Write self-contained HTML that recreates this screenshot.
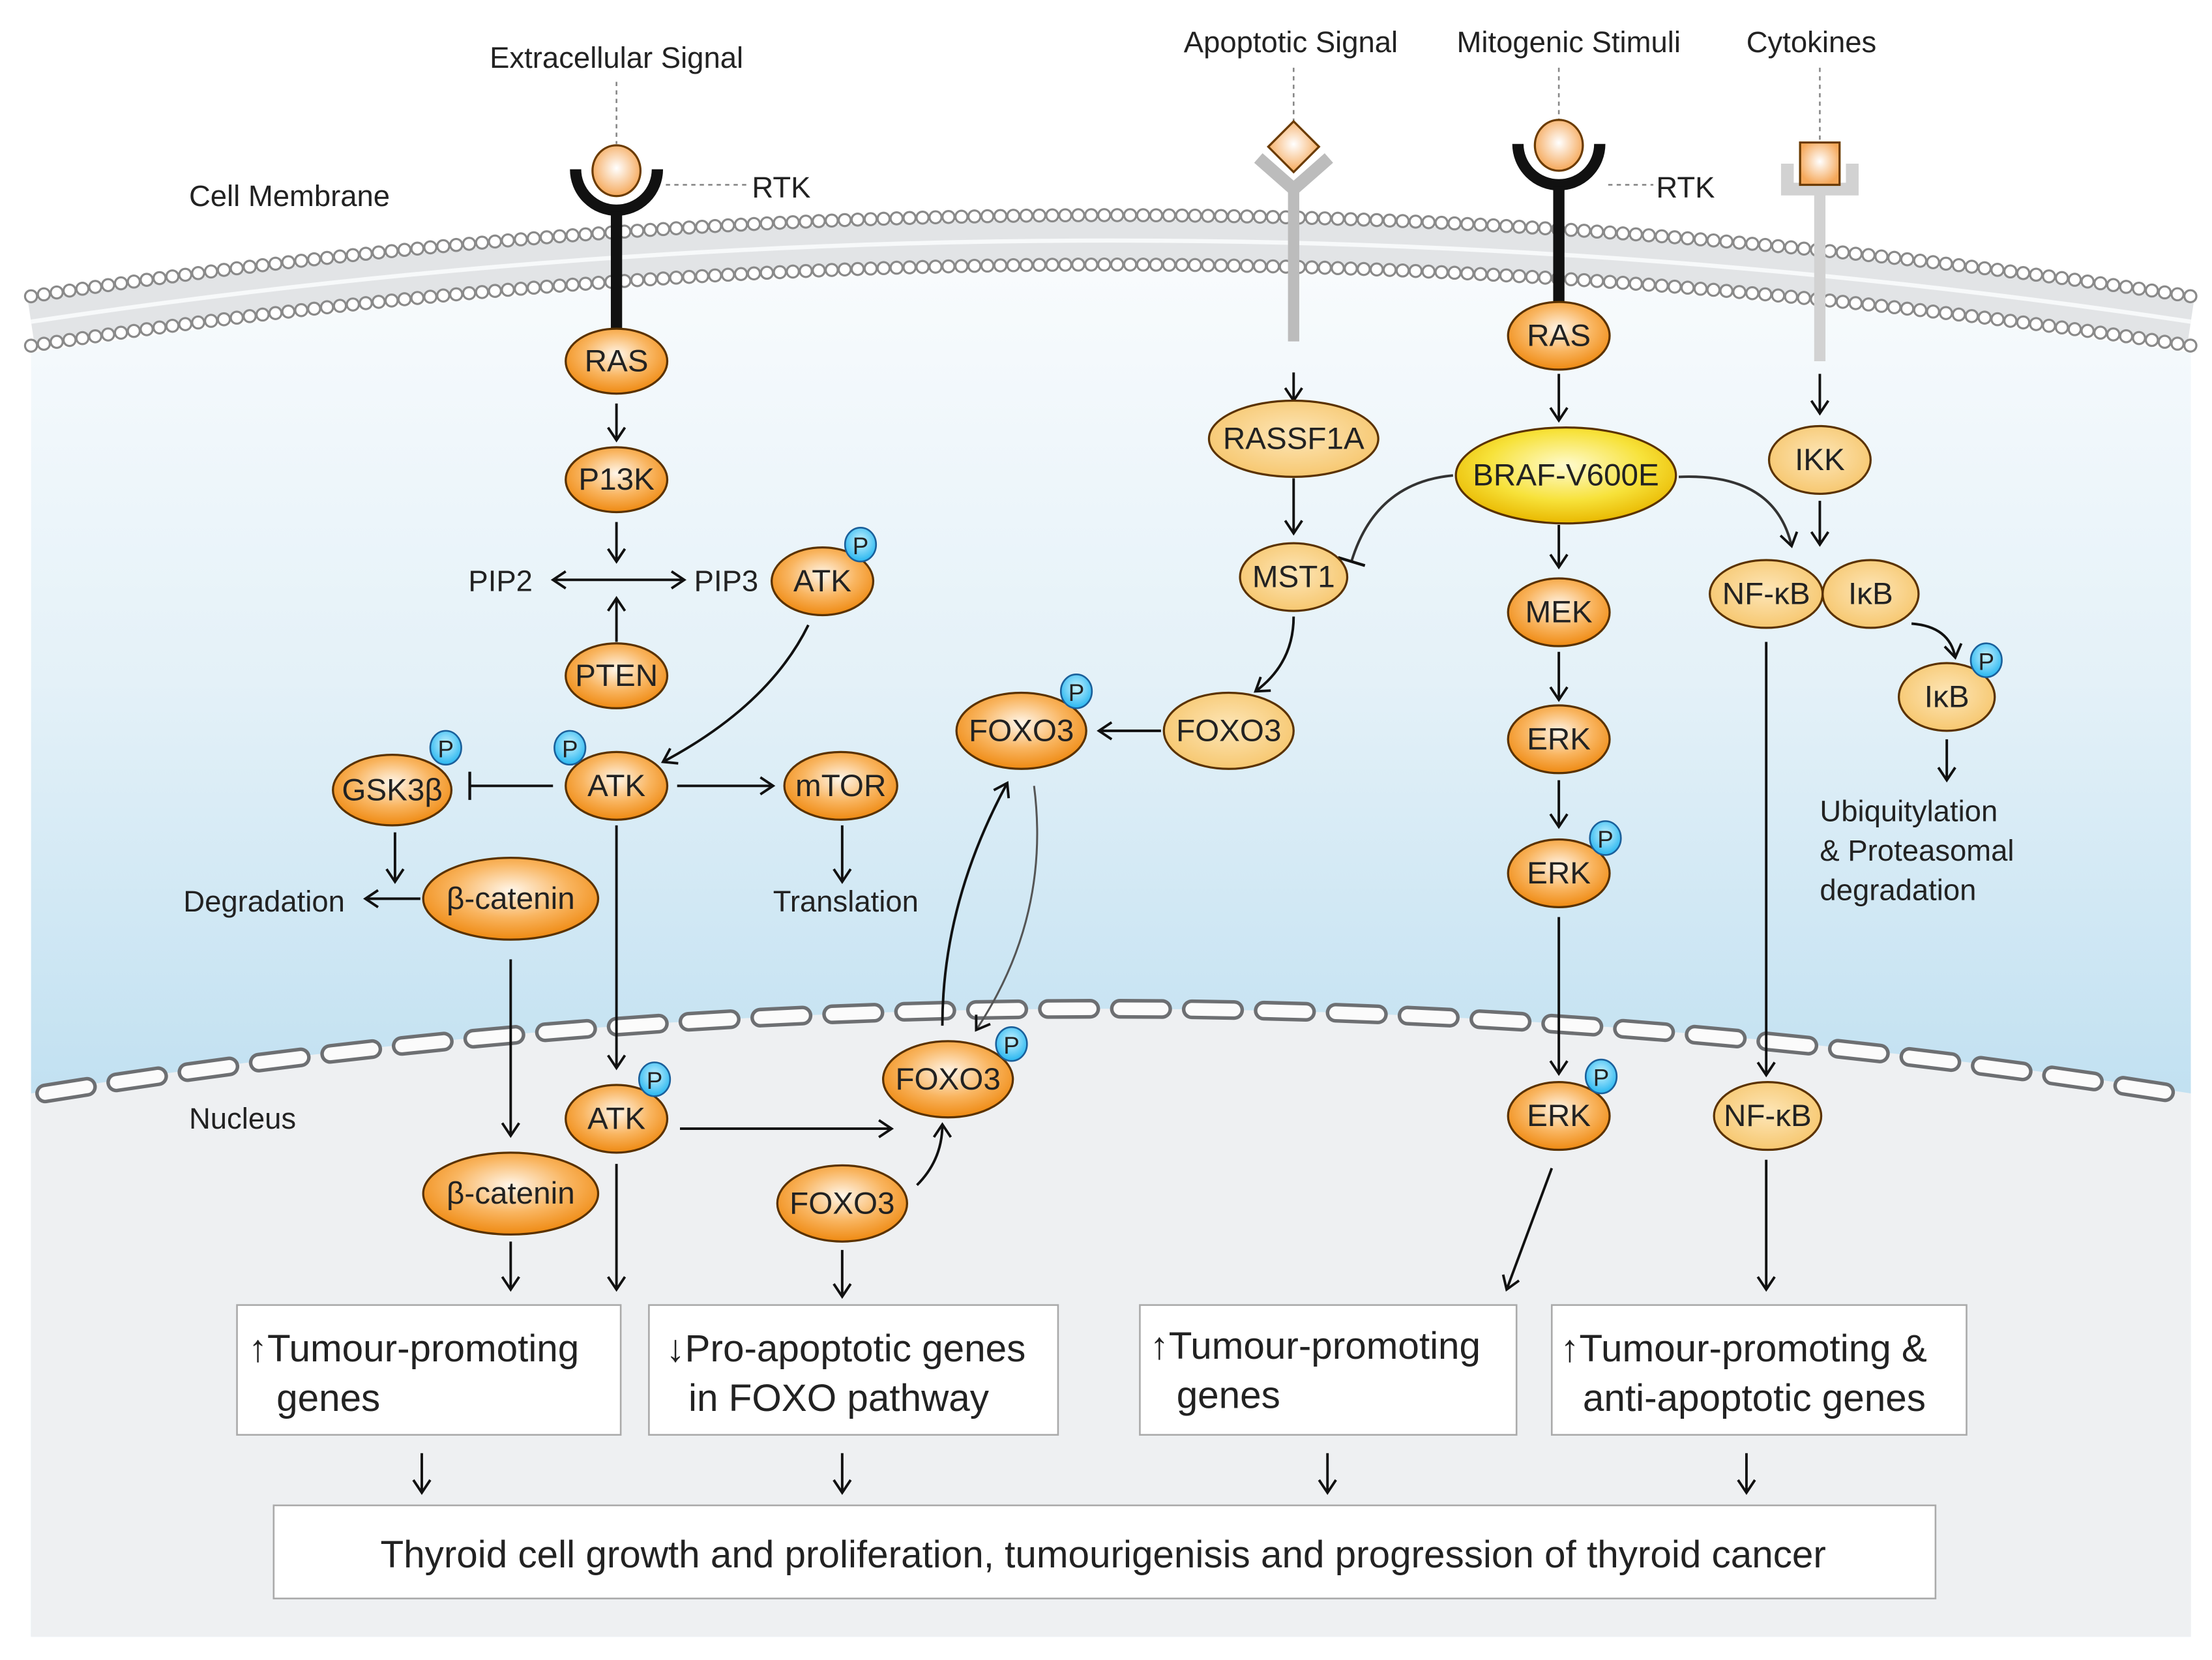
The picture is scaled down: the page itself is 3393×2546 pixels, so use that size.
<!DOCTYPE html>
<html><head><meta charset="utf-8"><style>
html,body{margin:0;padding:0;background:#fff;}
svg{display:block;}
text{font-family:"Liberation Sans",sans-serif;fill:#222;}
.n{font-size:22px;text-anchor:middle;dominant-baseline:central;}
.l{font-size:21px;}
.b{font-size:27px;}
.ar{fill:none;stroke:#111;stroke-width:1.8;}
</style></head><body>
<svg width="3393" height="2546" viewBox="0 0 1568 1176.6" preserveAspectRatio="none" xmlns="http://www.w3.org/2000/svg">
<defs>
<radialGradient id="og" cx="50%" cy="40%" r="60%"><stop offset="0" stop-color="#fff6ea"/><stop offset="0.55" stop-color="#f9b560"/><stop offset="1" stop-color="#ef8a12"/></radialGradient>
<radialGradient id="lg" cx="50%" cy="45%" r="60%"><stop offset="0" stop-color="#fde6b8"/><stop offset="1" stop-color="#f6c56a"/></radialGradient>
<radialGradient id="yg" cx="50%" cy="40%" r="60%"><stop offset="0" stop-color="#fffbd0"/><stop offset="0.6" stop-color="#f7e23a"/><stop offset="1" stop-color="#e9b800"/></radialGradient>
<radialGradient id="lig" cx="50%" cy="45%" r="55%"><stop offset="0" stop-color="#fff"/><stop offset="1" stop-color="#f5a85a"/></radialGradient>
<radialGradient id="pg" cx="50%" cy="40%" r="60%"><stop offset="0" stop-color="#c9f3ff"/><stop offset="1" stop-color="#27b6f0"/></radialGradient>
<linearGradient id="cyto" x1="0" y1="0" x2="0" y2="1"><stop offset="0" stop-color="#f8fbfd"/><stop offset="0.3" stop-color="#e4f1f8"/><stop offset="1" stop-color="#94cbe8"/></linearGradient>
<marker id="a" markerWidth="12" markerHeight="14" refX="10" refY="7" orient="auto" markerUnits="userSpaceOnUse"><path d="M1,1 L10,7 L1,13" fill="none" stroke="#111" stroke-width="1.8"/></marker>
<marker id="as" markerWidth="12" markerHeight="14" refX="2" refY="7" orient="auto" markerUnits="userSpaceOnUse"><path d="M11,1 L2,7 L11,13" fill="none" stroke="#111" stroke-width="1.8"/></marker>
<marker id="t" markerWidth="6" markerHeight="20" refX="3" refY="10" orient="auto" markerUnits="userSpaceOnUse"><path d="M3,0 L3,20" stroke="#111" stroke-width="2"/></marker>
</defs>
<!-- background cell -->
<path d="M22,250 Q787,135 1553,250 L1553,1160 L22,1160 Z" fill="url(#cyto)"/>
<path d="M22,775 Q780,655 1553,775 L1553,1160 L22,1160 Z" fill="#eef0f2"/>
<!-- membrane -->
<path d="M22,228 Q787,113 1553,228" fill="none" stroke="#e2e4e6" stroke-width="30"/>
<path d="M22,228 Q787,113 1553,228" fill="none" stroke="#f7f9fa" stroke-width="3"/>
<path d="M22,210 Q787,95 1553,210" fill="none" stroke="#8a8a8a" stroke-width="10" stroke-dasharray="0 9.2" stroke-linecap="round"/>
<path d="M22,210 Q787,95 1553,210" fill="none" stroke="#fff" stroke-width="7" stroke-dasharray="0 9.2" stroke-linecap="round"/>
<path d="M22,245 Q787,130 1553,245" fill="none" stroke="#8a8a8a" stroke-width="10" stroke-dasharray="0 9.2" stroke-linecap="round"/>
<path d="M22,245 Q787,130 1553,245" fill="none" stroke="#fff" stroke-width="7" stroke-dasharray="0 9.2" stroke-linecap="round"/>
<!-- nuclear envelope -->
<path d="M32,775 Q780,655 1540,775" fill="none" stroke="#6d6f72" stroke-width="14" stroke-dasharray="30 21" stroke-linecap="round"/>
<path d="M32,775 Q780,655 1540,775" fill="none" stroke="#fbfbfb" stroke-width="9" stroke-dasharray="30 21" stroke-linecap="round"/>
<text x="134" y="146" class="l" fill="#444">Cell Membrane</text>
<text x="134" y="800" class="l" fill="#444">Nucleus</text>
<!-- top labels -->
<text x="437" y="48" class="l" text-anchor="middle">Extracellular Signal</text>
<text x="915" y="37" class="l" text-anchor="middle">Apoptotic Signal</text>
<text x="1112" y="37" class="l" text-anchor="middle">Mitogenic Stimuli</text>
<text x="1284" y="37" class="l" text-anchor="middle">Cytokines</text>
<g stroke="#888" stroke-width="1.2" stroke-dasharray="3 3">
<path d="M437,58 V102"/><path d="M917,48 V88"/><path d="M1105,48 V86"/><path d="M1290,48 V100"/>
<path d="M472,131 H530"/><path d="M1140,131 H1172"/>
</g>
<text x="533" y="140" class="l">RTK</text>
<text x="1174" y="140" class="l">RTK</text>
<!-- receptor 1 -->
<path d="M408,120 A29,29 0 0 0 466,120" fill="none" stroke="#111" stroke-width="8"/>
<path d="M437,150 V236" stroke="#111" stroke-width="8"/>
<ellipse cx="437" cy="121" rx="17" ry="18" fill="url(#lig)" stroke="#6b3b00" stroke-width="1.5"/>
<!-- receptor 2 apoptotic -->
<path d="M892,112 L917,134 L942,112" fill="none" stroke="#bcbcbc" stroke-width="9"/>
<path d="M917,134 V242" stroke="#bcbcbc" stroke-width="8"/>
<path d="M917,86 L935,104 L917,122 L899,104 Z" fill="url(#lig)" stroke="#6b3b00" stroke-width="1.5"/>
<!-- receptor 3 -->
<path d="M1076,102 A29,29 0 0 0 1134,102" fill="none" stroke="#111" stroke-width="8"/>
<path d="M1105,132 V216" stroke="#111" stroke-width="8"/>
<ellipse cx="1105" cy="103" rx="17" ry="18" fill="url(#lig)" stroke="#6b3b00" stroke-width="1.5"/>
<!-- receptor 4 cytokine -->
<path d="M1267,116 V134 H1313 V116" fill="none" stroke="#d2d2d2" stroke-width="9"/>
<path d="M1290,134 V256" stroke="#d2d2d2" stroke-width="8"/>
<rect x="1276" y="101" width="28" height="30" fill="url(#lig)" stroke="#6b3b00" stroke-width="1.5"/>
<!-- arrows -->
<g class="ar">
<path d="M437,286 V312" marker-end="url(#a)"/>
<path d="M437,370 V398" marker-end="url(#a)"/>
<path d="M392,411 H485" marker-start="url(#as)" marker-end="url(#a)"/>
<path d="M437,455 V424" marker-end="url(#a)"/>
<path d="M573,443 Q545,500 470,540" marker-end="url(#a)"/>
<path d="M392,557 H333" marker-end="url(#t)"/>
<path d="M480,557 H548" marker-end="url(#a)"/>
<path d="M280,590 V625" marker-end="url(#a)"/>
<path d="M298,637 H259" marker-end="url(#a)"/>
<path d="M597,585 V625" marker-end="url(#a)"/>
<path d="M362,680 V805" marker-end="url(#a)"/>
<path d="M437,585 V757" marker-end="url(#a)"/>
<path d="M482,800 H632" marker-end="url(#a)"/>
<path d="M650,840 Q668,822 668,797" marker-end="url(#a)"/>
<path d="M668,727 Q668,640 714,555" marker-end="url(#a)"/>
<path d="M733,557 Q745,650 692,730" marker-end="url(#a)" stroke="#555" stroke-width="1.4"/>
<path d="M823,518 H779" marker-end="url(#a)"/>
<path d="M917,264 V284" marker-end="url(#a)"/>
<path d="M917,339 V378" marker-end="url(#a)"/>
<path d="M917,437 Q917,470 890,490" marker-end="url(#a)"/>
<path d="M1030,337 Q975,342 958,398" marker-end="url(#t)" stroke="#333"/>
<path d="M1190,338 Q1258,335 1270,387" marker-end="url(#a)" stroke="#333"/>
<path d="M1105,265 V298" marker-end="url(#a)"/>
<path d="M1105,372 V402" marker-end="url(#a)"/>
<path d="M1105,462 V496" marker-end="url(#a)"/>
<path d="M1105,553 V586" marker-end="url(#a)"/>
<path d="M1105,650 V761" marker-end="url(#a)"/>
<path d="M1290,265 V293" marker-end="url(#a)"/>
<path d="M1290,355 V386" marker-end="url(#a)"/>
<path d="M1355,442 Q1382,444 1386,466" marker-end="url(#a)"/>
<path d="M1380,524 V553" marker-end="url(#a)"/>
<path d="M1252,455 V762" marker-end="url(#a)"/>
<path d="M1252,822 V914" marker-end="url(#a)"/>
<path d="M1100,828 L1068,914" marker-end="url(#a)"/>
<path d="M362,880 V914" marker-end="url(#a)"/>
<path d="M437,825 V914" marker-end="url(#a)"/>
<path d="M597,886 V919" marker-end="url(#a)"/>
<path d="M299,1030 V1058" marker-end="url(#a)"/>
<path d="M597,1030 V1058" marker-end="url(#a)"/>
<path d="M941,1030 V1058" marker-end="url(#a)"/>
<path d="M1238,1030 V1058" marker-end="url(#a)"/>
</g>
<text x="332" y="419" class="l">PIP2</text>
<text x="492" y="419" class="l">PIP3</text>
<text x="130" y="646" class="l">Degradation</text>
<text x="548" y="646" class="l">Translation</text>
<text x="1290" y="582" class="l">Ubiquitylation</text>
<text x="1290" y="610" class="l">&amp; Proteasomal</text>
<text x="1290" y="638" class="l">degradation</text>
<!-- nodes -->
<g stroke="#5a3200" stroke-width="1.5">
<ellipse cx="437" cy="256" rx="36" ry="23" fill="url(#og)"/>
<ellipse cx="437" cy="340" rx="36" ry="23" fill="url(#og)"/>
<ellipse cx="583" cy="412" rx="36" ry="24" fill="url(#og)"/>
<ellipse cx="437" cy="479" rx="36" ry="23" fill="url(#og)"/>
<ellipse cx="278" cy="560" rx="42" ry="25" fill="url(#og)"/>
<ellipse cx="437" cy="557" rx="36" ry="24" fill="url(#og)"/>
<ellipse cx="596" cy="557" rx="40" ry="24" fill="url(#og)"/>
<ellipse cx="362" cy="637" rx="62" ry="29" fill="url(#og)"/>
<ellipse cx="724" cy="518" rx="46" ry="27" fill="url(#og)"/>
<ellipse cx="871" cy="518" rx="46" ry="27" fill="url(#lg)"/>
<ellipse cx="917" cy="311" rx="60" ry="27" fill="url(#lg)"/>
<ellipse cx="917" cy="409" rx="38" ry="24" fill="url(#lg)"/>
<ellipse cx="1105" cy="238" rx="36" ry="24" fill="url(#og)"/>
<ellipse cx="1110" cy="337" rx="78" ry="34" fill="url(#yg)"/>
<ellipse cx="1105" cy="434" rx="36" ry="24" fill="url(#og)"/>
<ellipse cx="1105" cy="524" rx="36" ry="24" fill="url(#og)"/>
<ellipse cx="1105" cy="619" rx="36" ry="24" fill="url(#og)"/>
<ellipse cx="1290" cy="326" rx="36" ry="24" fill="url(#lg)"/>
<ellipse cx="1252" cy="421" rx="40" ry="24" fill="url(#lg)"/>
<ellipse cx="1326" cy="421" rx="34" ry="24" fill="url(#lg)"/>
<ellipse cx="1380" cy="494" rx="34" ry="24" fill="url(#lg)"/>
<ellipse cx="437" cy="793" rx="36" ry="24" fill="url(#og)"/>
<ellipse cx="362" cy="846" rx="62" ry="29" fill="url(#og)"/>
<ellipse cx="672" cy="765" rx="46" ry="27" fill="url(#og)"/>
<ellipse cx="597" cy="853" rx="46" ry="27" fill="url(#og)"/>
<ellipse cx="1105" cy="791" rx="36" ry="24" fill="url(#og)"/>
<ellipse cx="1253" cy="791" rx="38" ry="24" fill="url(#lg)"/>
</g>
<g class="n">
<text x="437" y="256" class="n">RAS</text>
<text x="437" y="340" class="n">P13K</text>
<text x="583" y="412" class="n">ATK</text>
<text x="437" y="479" class="n">PTEN</text>
<text x="278" y="560" class="n">GSK3β</text>
<text x="437" y="557" class="n">ATK</text>
<text x="596" y="557" class="n">mTOR</text>
<text x="362" y="637" class="n">β-catenin</text>
<text x="724" y="518" class="n">FOXO3</text>
<text x="871" y="518" class="n" fill="#5a4a30">FOXO3</text>
<text x="917" y="311" class="n" fill="#5a4a30">RASSF1A</text>
<text x="917" y="409" class="n" fill="#5a4a30">MST1</text>
<text x="1105" y="238" class="n">RAS</text>
<text x="1110" y="337" class="n">BRAF-V600E</text>
<text x="1105" y="434" class="n">MEK</text>
<text x="1105" y="524" class="n">ERK</text>
<text x="1105" y="619" class="n">ERK</text>
<text x="1290" y="326" class="n" fill="#5a4a30">IKK</text>
<text x="1252" y="421" class="n" fill="#5a4a30">NF-κB</text>
<text x="1326" y="421" class="n" fill="#5a4a30">IκB</text>
<text x="1380" y="494" class="n" fill="#5a4a30">IκB</text>
<text x="437" y="793" class="n">ATK</text>
<text x="362" y="846" class="n">β-catenin</text>
<text x="672" y="765" class="n">FOXO3</text>
<text x="597" y="853" class="n">FOXO3</text>
<text x="1105" y="791" class="n">ERK</text>
<text x="1253" y="791" class="n" fill="#5a4a30">NF-κB</text>
</g>
<!-- P badges -->
<g stroke="#1a5f9a" stroke-width="1.2">
<ellipse cx="610" cy="386" rx="11" ry="12" fill="url(#pg)"/>
<ellipse cx="316" cy="530" rx="11" ry="12" fill="url(#pg)"/>
<ellipse cx="404" cy="530" rx="11" ry="12" fill="url(#pg)"/>
<ellipse cx="763" cy="490" rx="11" ry="12" fill="url(#pg)"/>
<ellipse cx="1138" cy="594" rx="11" ry="12" fill="url(#pg)"/>
<ellipse cx="1408" cy="468" rx="11" ry="12" fill="url(#pg)"/>
<ellipse cx="464" cy="765" rx="11" ry="12" fill="url(#pg)"/>
<ellipse cx="717" cy="740" rx="11" ry="12" fill="url(#pg)"/>
<ellipse cx="1135" cy="763" rx="11" ry="12" fill="url(#pg)"/>
</g>
<g font-size="17">
<text x="610" y="387" class="n" style="font-size:17px">P</text>
<text x="316" y="531" class="n" style="font-size:17px">P</text>
<text x="404" y="531" class="n" style="font-size:17px">P</text>
<text x="763" y="491" class="n" style="font-size:17px">P</text>
<text x="1138" y="595" class="n" style="font-size:17px">P</text>
<text x="1408" y="469" class="n" style="font-size:17px">P</text>
<text x="464" y="766" class="n" style="font-size:17px">P</text>
<text x="717" y="741" class="n" style="font-size:17px">P</text>
<text x="1135" y="764" class="n" style="font-size:17px">P</text>
</g>
<!-- boxes -->
<g fill="#fff" stroke="#aaa" stroke-width="1.2">
<rect x="168" y="925" width="272" height="92"/>
<rect x="460" y="925" width="290" height="92"/>
<rect x="808" y="925" width="267" height="92"/>
<rect x="1100" y="925" width="294" height="92"/>
<rect x="194" y="1067" width="1178" height="66"/>
</g>
<text x="176" y="965" class="b">↑Tumour-promoting</text>
<text x="196" y="1000" class="b">genes</text>
<text x="472" y="965" class="b">↓Pro-apoptotic genes</text>
<text x="488" y="1000" class="b">in FOXO pathway</text>
<text x="815" y="963" class="b">↑Tumour-promoting</text>
<text x="834" y="998" class="b">genes</text>
<text x="1106" y="965" class="b">↑Tumour-promoting &amp;</text>
<text x="1122" y="1000" class="b">anti-apoptotic genes</text>
<text x="782" y="1111" class="b" text-anchor="middle">Thyroid cell growth and proliferation, tumourigenisis and progression of thyroid cancer</text>
</svg>
</body></html>
